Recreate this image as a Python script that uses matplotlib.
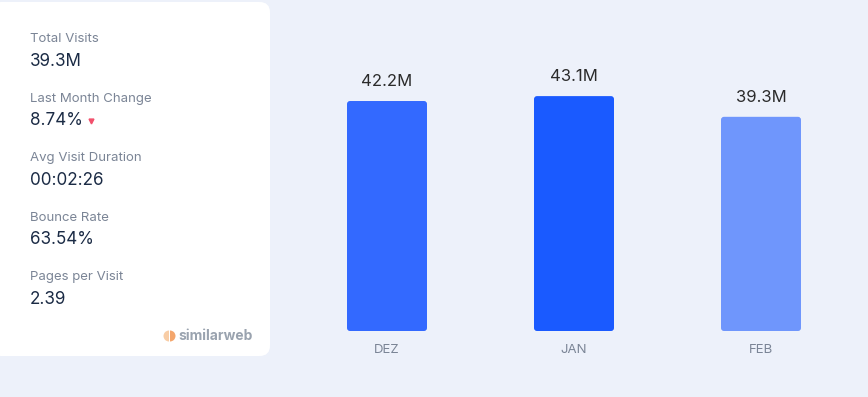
import matplotlib.pyplot as plt
from matplotlib.patches import FancyBboxPatch, Wedge
from matplotlib.lines import Line2D

plt.rcParams['font.family'] = ['Inter', 'DejaVu Sans']

# data
months = ['DEZ', 'JAN', 'FEB']
visits = [42.2, 43.1, 39.3]            # millions
value_labels = ['42.2M', '43.1M', '39.3M']
bar_colors = ['#3369FF', '#1A5AFF', '#6F96FC']

stat_names = ['Total Visits', 'Last Month Change', 'Avg Visit Duration',
              'Bounce Rate', 'Pages per Visit']
stat_values = ['39.3M', '8.74%', '00:02:26', '63.54%', '2.39']

W, H = 868, 397
fig = plt.figure(figsize=(W / 100, H / 100), dpi=100)
fig.patch.set_facecolor('#EDF1FA')

def fx(px):
    return px / W

def fy(py):
    return 1 - py / H

# white stats card
card = FancyBboxPatch((fx(-10), fy(356)), fx(280), fy(2) - fy(356),
                      boxstyle='round,pad=0,rounding_size=0.012',
                      transform=fig.transFigure, facecolor='white',
                      edgecolor='none', mutation_aspect=W / H, zorder=0)
fig.patches.append(card)

for i, (name, val) in enumerate(zip(stat_names, stat_values)):
    y0 = 39 + i * 59.6
    fig.text(fx(30), fy(y0), name, fontsize=9.5, color='#7B8596',
             va='center', ha='left')
    fig.text(fx(30), fy(y0 + 22), val, fontsize=12.3, color='#1B2B45',
             va='center', ha='left')

# red down arrow next to the change value
fig.add_artist(Line2D([fx(91)], [fy(121)], marker='v', markersize=3.5,
                      color='#F2506C', transform=fig.transFigure, zorder=5))

# similarweb logo
r = 5.5
fig.add_artist(Wedge((169, H - 336), r, 90, 270, transform=None,
                     facecolor='#F8CDA6', zorder=5))
fig.add_artist(Wedge((170, H - 336), r, 270, 90, transform=None,
                     facecolor='#F4A66C', zorder=5))
fig.text(fx(178), fy(336), 'similarweb', fontsize=10, fontweight='bold',
         color='#9AA3AF', va='center', ha='left')

# bar chart
ax = fig.add_axes([fx(293.5), fy(331), fx(854.5) - fx(293.5), fy(58.5) - fy(331)])
ax.set_facecolor('none')
x = range(len(months))
bars = ax.bar(x, visits, width=80 / 187, color=bar_colors)
ax.set_xlim(-0.5, 2.5)
ax.set_ylim(0, 50)

# rounded corners for the bars
xpp = 3 / 561
ypp = 50 / 272.5
for b in bars:
    b.set_visible(False)
    ax.add_patch(FancyBboxPatch((b.get_x(), 0), b.get_width(), b.get_height(),
                                boxstyle=f'round,pad=0,rounding_size={3 * xpp}',
                                mutation_aspect=ypp / xpp,
                                facecolor=b.get_facecolor(), edgecolor='none'))

for b, lab in zip(bars, value_labels):
    ax.annotate(lab, (b.get_x() + b.get_width() / 2, b.get_height()),
                xytext=(0, 8.5), textcoords='offset points', ha='center',
                va='bottom', fontsize=12, color='#2B2B2B')

ax.set_xticks(list(x))
ax.set_xticklabels(months, fontsize=9.5, color='#7B8596')
ax.tick_params(axis='x', length=0, pad=9.5)
ax.set_yticks([])
for s in ax.spines.values():
    s.set_visible(False)

fig.savefig('out.png', dpi=100, facecolor=fig.get_facecolor())
